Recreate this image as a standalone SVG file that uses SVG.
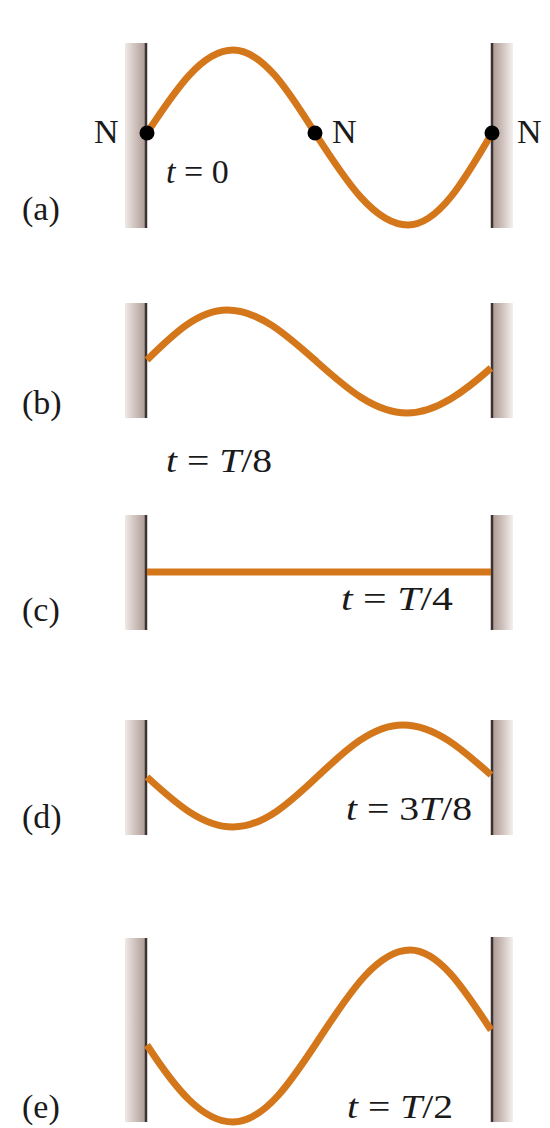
<svg xmlns="http://www.w3.org/2000/svg" width="550" height="1128" viewBox="0 0 550 1128">
<defs>
<linearGradient id="wallL" x1="0" y1="0" x2="1" y2="0">
<stop offset="0" stop-color="#efe9e6"/>
<stop offset="0.55" stop-color="#c9bab5"/>
<stop offset="1" stop-color="#a8958f"/>
</linearGradient>
<linearGradient id="wallR" x1="1" y1="0" x2="0" y2="0">
<stop offset="0" stop-color="#f4f0ee"/>
<stop offset="0.55" stop-color="#c9bab5"/>
<stop offset="1" stop-color="#a8958f"/>
</linearGradient>
<style>
.wl{fill:url(#wallL)}
.wr{fill:url(#wallR)}
.edge{stroke:#3b3232;stroke-width:2.5}
.str{fill:none;stroke:#d4771b;stroke-width:7;stroke-linecap:butt}
.node{fill:#000}
text{font-family:"Liberation Serif","Times New Roman",serif;font-size:34px;fill:#1a1a1a}
.it{font-style:italic}
</style>
</defs>
<rect width="550" height="1128" fill="#fff"/>

<g id="panel-a">
<rect class="wl" x="125" y="43" width="22" height="185"/>
<line class="edge" x1="146" y1="43" x2="146" y2="228"/>
<rect class="wr" x="491" y="43" width="22" height="185"/>
<line class="edge" x1="492" y1="43" x2="492" y2="228"/>
<path class="str" d="M147,133 C175,90.5 202,50 233,50 C262.5,50 288.3,90.5 315,133 C345.3,180.1 374.5,225 408,225 C438.2,225 464.6,180.1 492,133"/>
<circle class="node" cx="147" cy="133" r="7.5"/>
<circle class="node" cx="315" cy="133" r="7.5"/>
<circle class="node" cx="492" cy="133" r="7.5"/>
<text x="94" y="143">N</text>
<text x="332" y="143">N</text>
<text x="517" y="143">N</text>
<text x="166" y="183"><tspan class="it">t</tspan> = 0</text>
<text x="22" y="220">(a)</text>
</g>

<g id="panel-b">
<rect class="wl" x="125" y="303" width="22" height="115"/>
<line class="edge" x1="146" y1="303" x2="146" y2="418"/>
<rect class="wr" x="491" y="303" width="22" height="115"/>
<line class="edge" x1="492" y1="303" x2="492" y2="418"/>
<path class="str" d="M147,360 C173,334.4 198.2,310 227,310 C259.4,310 287.7,336 317,362 C346.3,388.1 374.6,413 407,413 C437,413 466,390 491,368"/>
<text x="22" y="414">(b)</text>
<text x="166" y="472" textLength="106" lengthAdjust="spacingAndGlyphs"><tspan class="it">t</tspan> = <tspan class="it">T</tspan>/8</text>
</g>

<g id="panel-c">
<rect class="wl" x="125" y="515" width="22" height="115"/>
<line class="edge" x1="146" y1="515" x2="146" y2="630"/>
<rect class="wr" x="491" y="515" width="22" height="115"/>
<line class="edge" x1="492" y1="515" x2="492" y2="630"/>
<line class="str" x1="147" y1="572" x2="491" y2="572"/>
<text x="22" y="621">(c)</text>
<text x="341" y="610" textLength="112" lengthAdjust="spacingAndGlyphs"><tspan class="it">t</tspan> = <tspan class="it">T</tspan>/4</text>
</g>

<g id="panel-d">
<rect class="wl" x="125" y="720" width="22" height="115"/>
<line class="edge" x1="146" y1="720" x2="146" y2="835"/>
<rect class="wr" x="491" y="720" width="22" height="115"/>
<line class="edge" x1="492" y1="720" x2="492" y2="835"/>
<path class="str" d="M147,777 C175,802.6 202,827 233,827 C263.6,827 290.3,802.1 318,776 C345.7,749.9 372.4,725 403,725 C434.7,725 462.3,749.4 491,775"/>
<text x="22" y="828">(d)</text>
<text x="346" y="820" textLength="126" lengthAdjust="spacingAndGlyphs"><tspan class="it">t</tspan> = 3<tspan class="it">T</tspan>/8</text>
</g>

<g id="panel-e">
<rect class="wl" x="125" y="938" width="22" height="184"/>
<line class="edge" x1="146" y1="938" x2="146" y2="1122"/>
<rect class="wr" x="491" y="937" width="22" height="185"/>
<line class="edge" x1="492" y1="937" x2="492" y2="1122"/>
<path class="str" d="M147,1045 C175,1088 202,1122 233,1122 C264.7,1122 292.3,1080 321,1036 C350,992 378,950 410,950 C439,950 464,989 491,1030"/>
<text x="22" y="1118">(e)</text>
<text x="347" y="1118" textLength="106" lengthAdjust="spacingAndGlyphs"><tspan class="it">t</tspan> = <tspan class="it">T</tspan>/2</text>
</g>
</svg>
